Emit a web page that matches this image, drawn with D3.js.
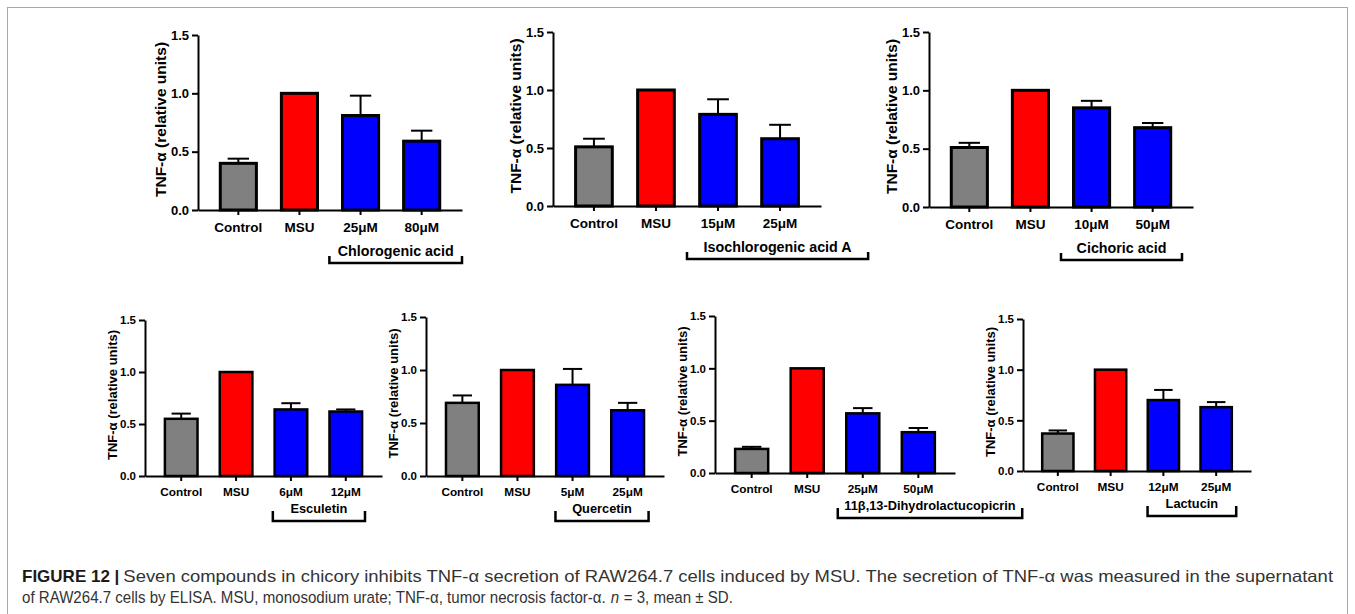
<!DOCTYPE html>
<html><head><meta charset="utf-8">
<script src="https://cdn.jsdelivr.net/npm/d3@7"></script>
<style>body{margin:0;background:#fff}svg{display:block}</style>
</head><body><svg id="c" width="1355" height="614"></svg>
<script>
// ---------- data ----------
const groups = ["Control", "MSU"];
const compounds = ["Chlorogenic acid", "Isochlorogenic acid A", "Cichoric acid",
  "Esculetin", "Quercetin", "11β,13-Dihydrolactucopicrin", "Lactucin"];
const doses = [["25μM", "80μM"], ["15μM", "25μM"], ["10μM", "50μM"],
  ["6μM", "12μM"], ["5μM", "25μM"], ["25μM", "50μM"], ["12μM", "25μM"]];
const means = [
  [0.40, 1.00, 0.81, 0.59],
  [0.51, 1.00, 0.79, 0.58],
  [0.51, 1.00, 0.85, 0.68],
  [0.55, 1.00, 0.64, 0.62],
  [0.69, 1.00, 0.86, 0.62],
  [0.23, 1.00, 0.57, 0.39],
  [0.37, 1.00, 0.70, 0.63]
];
const sds = [
  [0.04, 0, 0.17, 0.09],
  [0.07, 0, 0.13, 0.12],
  [0.04, 0, 0.06, 0.04],
  [0.05, 0, 0.06, 0.02],
  [0.07, 0, 0.15, 0.07],
  [0.02, 0, 0.05, 0.04],
  [0.03, 0, 0.10, 0.05]
];
const yTicks = [0, 0.5, 1.0, 1.5];
const yTitle = "TNF-α (relative units)";
const barColors = ["#808080", "#ff0000", "#0000ff", "#0000ff"];
const captionBold = "FIGURE 12 |";
const captionLine1 = "Seven compounds in chicory inhibits TNF-α secretion of RAW264.7 cells induced by MSU. The secretion of TNF-α was measured in the supernatant";
const captionLine2 = ["of RAW264.7 cells by ELISA. MSU, monosodium urate; TNF-α, tumor necrosis factor-α.", "n", "= 3, mean ± SD."];

// ---------- layout ----------
const layout = [
  {x0: 198, x1: 462, y0: 210, y1: 35, big: true, br: [1.49, 3.66]},
  {x0: 553, x1: 821, y0: 206, y1: 32, big: true, br: [1.5, 4.42]},
  {x0: 929, x1: 1193, y0: 207, y1: 32, big: true, br: [1.5, 3.48]},
  {x0: 145, x1: 382, y0: 476, y1: 320, big: false, br: [1.67, 3.35]},
  {x0: 426, x1: 664, y0: 476, y1: 317, big: false, br: [1.69, 3.38]},
  {x0: 715, x1: 955, y0: 473, y1: 316, big: false, br: [1.55, 4.87]},
  {x0: 1023, x1: 1251, y0: 471, y1: 319, big: false, br: [1.70, 3.38]}
];
const styleBig = {tick: 13.5, ytick: 13, ytitle: 15.5, brFont: 14.3, yOff: 38, tickPad: 7.5, brDy: 53, arm: 7, brLab: 12, bStroke: 3};
const styleSmall = {tick: 11.8, ytick: 11.5, ytitle: 13, brFont: 12.8, yOff: 33, tickPad: 7, brDy: 45, arm: 10, brLab: 13, bStroke: 2.5};

const svg = d3.select("#c");
const FONT = "'Liberation Sans', Arial, sans-serif";

// frame
svg.append("rect").attr("x", 7.5).attr("y", 7.5).attr("width", 1340).attr("height", 700)
  .attr("fill", "none").attr("stroke", "#a8a8a8").attr("stroke-width", 1);

layout.forEach((L, p) => {
  const S = L.big ? styleBig : styleSmall;
  const cats = groups.concat(doses[p]);
  const rows = cats.map((c, i) => ({c, m: means[p][i], sd: sds[p][i], col: barColors[i]}));
  const x = d3.scaleBand().domain(cats).range([L.x0, L.x1]).paddingInner(0.36).paddingOuter(0.34);
  const y = d3.scaleLinear().domain([0, 1.5]).range([L.y0, L.y1]);
  const g = svg.append("g");
  const bw = x.bandwidth(), step = x.step();

  // bars
  g.selectAll("rect.bar").data(rows).join("rect").attr("class", "bar")
    .attr("x", d => x(d.c) + S.bStroke / 2)
    .attr("width", bw - S.bStroke)
    .attr("y", d => y(d.m))
    .attr("height", d => y(0) - y(d.m))
    .attr("fill", d => d.col).attr("stroke", "#000").attr("stroke-width", S.bStroke);

  // error bars (upper only)
  const eb = rows.filter(d => d.sd > 0);
  const capW = step * 0.35;
  g.selectAll("line.ev").data(eb).join("line")
    .attr("x1", d => x(d.c) + bw / 2).attr("x2", d => x(d.c) + bw / 2)
    .attr("y1", d => y(d.m)).attr("y2", d => y(d.m + d.sd))
    .attr("stroke", "#000").attr("stroke-width", 2);
  g.selectAll("line.ec").data(eb).join("line")
    .attr("x1", d => x(d.c) + bw / 2 - capW / 2).attr("x2", d => x(d.c) + bw / 2 + capW / 2)
    .attr("y1", d => y(d.m + d.sd)).attr("y2", d => y(d.m + d.sd))
    .attr("stroke", "#000").attr("stroke-width", 2);

  // x axis
  const xa = g.append("g").attr("transform", `translate(0,${L.y0})`)
    .call(d3.axisBottom(x).tickSize(5).tickSizeOuter(0).tickPadding(S.tickPad));
  // y axis
  const ya = g.append("g").attr("transform", `translate(${L.x0},0)`)
    .call(d3.axisLeft(y).tickValues(yTicks).tickFormat(d3.format(".1f")).tickSize(6).tickSizeOuter(0).tickPadding(3));
  [xa, ya].forEach(a => {
    a.select(".domain").attr("stroke", "#000").attr("stroke-width", 2);
    a.selectAll(".tick line").attr("stroke", "#000").attr("stroke-width", 2);
    a.selectAll("text").attr("fill", "#000").attr("font-family", FONT).attr("font-weight", "bold");
  });
  xa.selectAll("text").attr("font-size", S.tick);
  ya.selectAll("text").attr("font-size", S.ytick);

  // y title
  g.append("text")
    .attr("transform", `translate(${L.x0 - S.yOff},${(L.y0 + L.y1) / 2 - 3}) rotate(-90)`)
    .attr("text-anchor", "middle").attr("dominant-baseline", "central")
    .attr("font-family", FONT).attr("font-weight", "bold").attr("font-size", S.ytitle)
    .text(yTitle);

  // bracket
  const c0 = x(cats[0]) + bw / 2;
  const bx1 = c0 + L.br[0] * step, bx2 = c0 + L.br[1] * step;
  const by = L.y0 + S.brDy;
  g.append("path")
    .attr("d", `M${bx1},${by - S.arm}V${by}H${bx2}V${by - S.arm}`)
    .attr("fill", "none").attr("stroke", "#000").attr("stroke-width", 2.5);
  g.append("text").attr("x", (bx1 + bx2) / 2).attr("y", by - S.brLab)
    .attr("text-anchor", "middle").attr("dominant-baseline", "central")
    .attr("font-family", FONT).attr("font-weight", "bold").attr("font-size", S.brFont)
    .text(compounds[p]);
});

// caption
const capFont = "'Liberation Sans', Arial, sans-serif";
const capSize = 16.5;
const b = svg.append("text").attr("x", 22).attr("y", 582)
  .attr("font-family", capFont).attr("font-weight", "bold").attr("font-size", 17)
  .attr("fill", "#1a1a1a").text(captionBold);
const bwid = b.node().getComputedTextLength();
const start1 = 22 + bwid + 4;
svg.append("text").attr("x", start1).attr("y", 582)
  .attr("font-family", capFont).attr("font-size", capSize).attr("fill", "#333")
  .attr("textLength", 1333 - start1).attr("lengthAdjust", "spacingAndGlyphs")
  .text(captionLine1);

// line 2: pieces laid out at natural width, then the whole line is scaled horizontally to fit
const line2 = svg.append("g");
const pieces = captionLine2.map((t, i) => line2.append("text")
  .attr("y", 603).attr("font-family", capFont).attr("font-size", capSize)
  .attr("font-style", i === 1 ? "italic" : "normal").attr("fill", "#333").text(t));
const gap = capSize * 0.3;
let cx = 0;
pieces.forEach(n => {
  n.attr("x", cx);
  cx += n.node().getComputedTextLength() + gap;
});
const natural = cx - gap;
const k = 711 / natural;
line2.attr("transform", `translate(22,0) scale(${k},1)`);
</script></body></html>
